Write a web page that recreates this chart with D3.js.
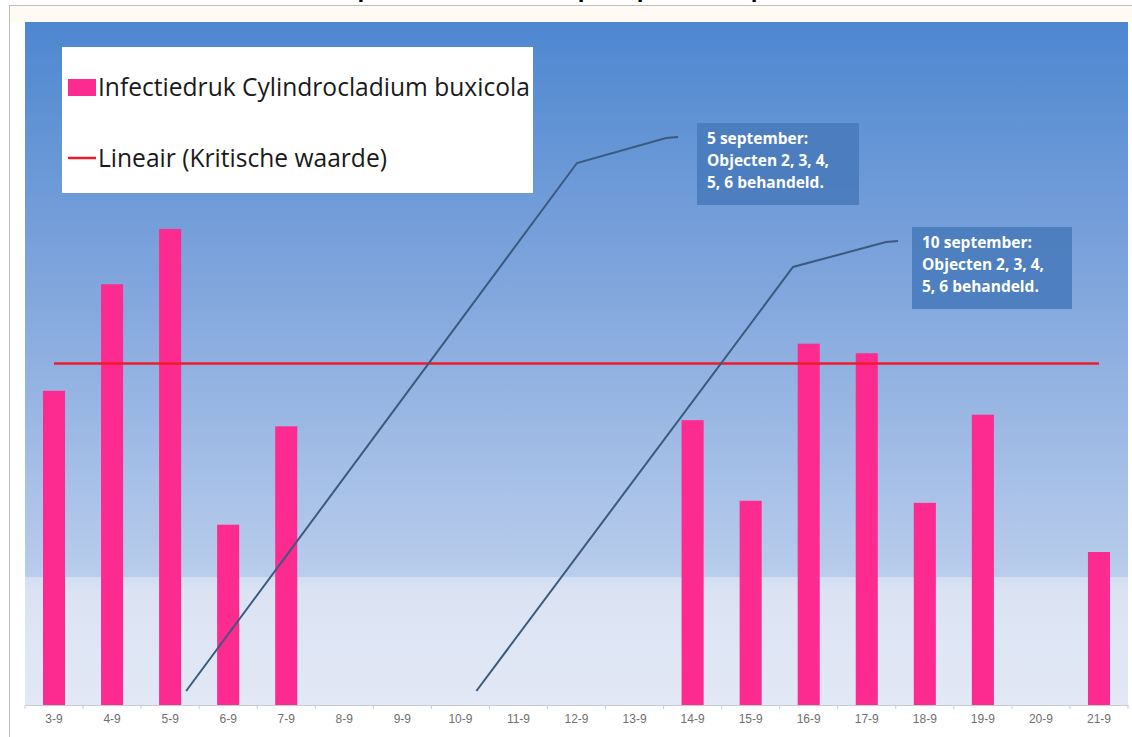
<!DOCTYPE html>
<html>
<head>
<meta charset="utf-8">
<script src="https://cdn.jsdelivr.net/npm/d3@7"></script>
<style>
  html, body { margin: 0; padding: 0; background: #ffffff; }
  svg { display: block; }
</style>
</head>
<body>
<svg id="chart" width="1132" height="737"></svg>
<script>
// Dates (day-month) on the category axis
const dates = ["3-9","4-9","5-9","6-9","7-9","8-9","9-9","10-9","11-9","12-9",
               "13-9","14-9","15-9","16-9","17-9","18-9","19-9","20-9","21-9"];
// Daily infection pressure of Cylindrocladium buxicola (0 = no pressure)
const infectiedruk = [46, 61.6, 69.7, 26.4, 40.8, 0, 0, 0, 0, 0,
                      0, 41.7, 29.9, 52.9, 51.5, 29.6, 42.5, 0, 22.4];
// Critical threshold (linear trend line)
const kritischeWaarde = [50, 50];
// Treatment notes
const behandelingen = [
  { date: "5-9",  lines: ["5 september:", "Objecten 2, 3, 4,", "5, 6 behandeld."] },
  { date: "10-9", lines: ["10 september:", "Objecten 2, 3, 4,", "5, 6 behandeld."] }
];
const legendLabels = ["Infectiedruk Cylindrocladium buxicola", "Lineair (Kritische waarde)"];

const svg = d3.select("#chart");
const W = 1132, H = 737;
const plot = { left: 25, right: 1128, top: 22, bottom: 705, fadeY: 577 };

// Title (runs off the top edge of the page)
svg.append("text")
  .attr("x", 566).attr("y", -3.5)
  .attr("text-anchor", "middle")
  .attr("font-family", "Open Sans, sans-serif")
  .attr("font-weight", "bold").attr("font-size", 22)
  .attr("fill", "#000")
  .text("Verloop infectiedruk in de proefperiode september");

// Chart frame
svg.append("line").attr("x1", 9).attr("x2", W).attr("y1", 5.5).attr("y2", 5.5)
  .attr("stroke", "#bfbfbf").attr("stroke-width", 1);
svg.append("line").attr("x1", 9.5).attr("x2", 9.5).attr("y1", 5).attr("y2", H)
  .attr("stroke", "#bfbfbf").attr("stroke-width", 1);
svg.append("rect").attr("x", 10).attr("y", 6).attr("width", W - 10).attr("height", plot.top - 6)
  .attr("fill", "#fffaf3");

// Plot background gradients
const defs = svg.append("defs");
const grad = defs.append("linearGradient").attr("id", "bgGrad")
  .attr("x1", 0).attr("y1", 0).attr("x2", 0).attr("y2", 1);
grad.append("stop").attr("offset", "0%").attr("stop-color", "#4d87d0");
grad.append("stop").attr("offset", "45%").attr("stop-color", "#7ea4dc");
grad.append("stop").attr("offset", "100%").attr("stop-color", "#b9cdec");
const grad2 = defs.append("linearGradient").attr("id", "bgGrad2")
  .attr("x1", 0).attr("y1", 0).attr("x2", 0).attr("y2", 1);
grad2.append("stop").attr("offset", "0%").attr("stop-color", "#d3def2");
grad2.append("stop").attr("offset", "12%").attr("stop-color", "#dbe3f3");
grad2.append("stop").attr("offset", "100%").attr("stop-color", "#e2e8f5");

svg.append("rect")
  .attr("x", plot.left).attr("y", plot.top)
  .attr("width", plot.right - plot.left).attr("height", plot.fadeY - plot.top)
  .attr("fill", "url(#bgGrad)");
svg.append("rect")
  .attr("x", plot.left).attr("y", plot.fadeY)
  .attr("width", plot.right - plot.left).attr("height", plot.bottom - plot.fadeY)
  .attr("fill", "url(#bgGrad2)");

// Scales
const x = d3.scaleBand().domain(dates).range([plot.left, plot.right]).paddingInner(0.62).paddingOuter(0.31);
const y = d3.scaleLinear().domain([0, 100]).range([plot.bottom, plot.top]);
const cx = d => x(d) + x.bandwidth() / 2;

// Bars
svg.append("g").selectAll("rect")
  .data(dates.map((d, i) => ({ date: d, v: infectiedruk[i] })).filter(d => d.v > 0))
  .join("rect")
  .attr("x", d => x(d.date))
  .attr("y", d => y(d.v))
  .attr("width", x.bandwidth())
  .attr("height", d => y(0) - y(d.v))
  .attr("fill", "#fd2a8f");

// Critical value line
svg.append("line")
  .attr("x1", cx(dates[0])).attr("x2", cx(dates[dates.length - 1]))
  .attr("y1", y(kritischeWaarde[0])).attr("y2", y(kritischeWaarde[1]))
  .attr("stroke", "#ee1c2a").attr("stroke-width", 2.5);

// Category axis
const xAxis = d3.axisBottom(x).tickSize(0).tickPadding(9);
const gx = svg.append("g").attr("transform", `translate(0,${plot.bottom})`).call(xAxis);
gx.select(".domain").attr("stroke", "#c5ccd8");
gx.selectAll("text")
  .attr("font-family", "Liberation Sans, sans-serif").attr("font-size", 12)
  .attr("fill", "#707070");
// Tick marks on the boundaries between categories
const step = x.step();
const firstEdge = cx(dates[0]) - step / 2;
svg.append("g").selectAll("line")
  .data(d3.range(dates.length + 1))
  .join("line")
  .attr("x1", i => firstEdge + i * step)
  .attr("x2", i => firstEdge + i * step)
  .attr("y1", plot.bottom).attr("y2", plot.bottom + 4)
  .attr("stroke", "#c5ccd8");

// Treatment callouts
const boxes = [
  { x: 697, y: 123, w: 162, h: 82, elbow: [577, 163], end: [678, 137] },
  { x: 912, y: 227, w: 160, h: 82, elbow: [793, 267], end: [898, 241] }
];
behandelingen.forEach((b, i) => {
  const bx = boxes[i];
  const start = [cx(b.date) + 16, plot.bottom - 14];
  const path = d3.line()([start, bx.elbow, [bx.end[0] - 12, bx.end[1] + 1], bx.end]);
  svg.append("path").attr("d", path)
    .attr("fill", "none").attr("stroke", "#3a5a7e").attr("stroke-width", 2);
  svg.append("rect")
    .attr("x", bx.x).attr("y", bx.y).attr("width", bx.w).attr("height", bx.h)
    .attr("fill", "#4a7cbd").attr("fill-opacity", 0.92);
  const t = svg.append("text")
    .attr("font-family", "Open Sans, sans-serif").attr("font-weight", "bold")
    .attr("font-size", 15.5).attr("fill", "#ffffff");
  b.lines.forEach((ln, j) => {
    t.append("tspan").attr("x", bx.x + 10).attr("y", bx.y + 21 + j * 22).text(ln);
  });
});

// Legend
svg.append("rect").attr("x", 62).attr("y", 47).attr("width", 471).attr("height", 146)
  .attr("fill", "#ffffff");
svg.append("rect").attr("x", 68).attr("y", 79).attr("width", 28).attr("height", 17)
  .attr("fill", "#fd2a8f");
svg.append("line").attr("x1", 68).attr("x2", 96).attr("y1", 158).attr("y2", 158)
  .attr("stroke", "#ee1c2a").attr("stroke-width", 2.5);
const legendY = [96, 167];
let legendFont = 21;
legendLabels.forEach((lab, i) => {
  const t = svg.append("text")
    .attr("x", 98).attr("y", legendY[i])
    .attr("font-family", "Open Sans, sans-serif").attr("font-size", legendFont)
    .attr("fill", "#1a1a1a").text(lab);
  if (i === 0) {
    // size the legend text so the longest entry fills the box
    legendFont = legendFont * 432 / t.node().getComputedTextLength();
  }
  t.attr("font-size", legendFont);
});
</script>
</body>
</html>
